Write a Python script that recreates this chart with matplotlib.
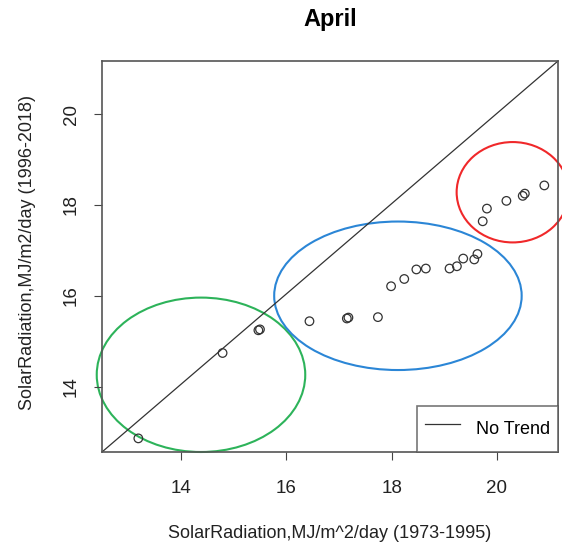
import numpy as np
import matplotlib
matplotlib.use('Agg')
import matplotlib.pyplot as plt
from matplotlib.patches import Ellipse

plt.rcParams['font.family'] = ['Liberation Sans', 'DejaVu Sans']

# mean April solar radiation, 1973-1995 vs 1996-2018
x_old = [13.19, 14.79, 15.47, 15.50, 16.44, 17.15, 17.18, 17.74, 17.99, 18.24,
         18.47, 18.65, 19.10, 19.24, 19.36, 19.57, 19.63, 19.73, 19.81, 20.18,
         20.49, 20.53, 20.90]
y_new = [12.86, 14.74, 15.24, 15.26, 15.44, 15.50, 15.52, 15.53, 16.21, 16.37,
         16.58, 16.60, 16.60, 16.65, 16.82, 16.80, 16.92, 17.64, 17.92, 18.09,
         18.20, 18.25, 18.43]

# cluster ellipses: centre x, centre y, width, height, colour
groups = [
    (14.38, 14.26, 3.96, 3.40, '#2db35a'),
    (18.12, 16.00, 4.70, 3.27, '#2b86d6'),
    (20.30, 18.28, 2.13, 2.21, '#f0282a'),
]

fig = plt.figure(figsize=(5.62, 5.5), dpi=100)
ax = fig.add_axes([102/562, 98/550, 456/562, 391/550])
ax.set_xlim(12.5, 21.16)
ax.set_ylim(12.56, 21.17)

ax.plot([12.5, 21.16], [12.56, 21.17], color='#333333', lw=0.9, label='No Trend')
ax.scatter(x_old, y_new, s=38, facecolors='none', edgecolors='#333333', linewidths=0.9, zorder=3)

for cx, cy, w, h, c in groups:
    ax.add_patch(Ellipse((cx, cy), w, h, fill=False, edgecolor=c, lw=1.5, clip_on=False))

ax.set_xticks([14, 16, 18, 20])
ax.set_yticks([14, 16, 18, 20])
ax.tick_params(labelsize=13.5, length=6, color='#444444', labelcolor='#222222')
ax.tick_params(axis='x', pad=14)
ax.tick_params(axis='y', pad=10)
for lab in ax.get_yticklabels():
    lab.set_rotation(90)
    lab.set_va('center')
for sp in ax.spines.values():
    sp.set_color('#555555')
    sp.set_linewidth(1.2)

ax.set_xlabel('SolarRadiation,MJ/m^2/day (1973-1995)', fontsize=13, color='#222222', labelpad=20)
ax.set_ylabel('SolarRadiation,MJ/m2/day (1996-2018)', fontsize=13, color='#222222')
ax.yaxis.set_label_coords(-0.145, 0.51)
ax.set_title('April', fontsize=17, fontweight='bold', pad=25)

leg = ax.legend(loc='lower right', fontsize=13, borderaxespad=0, fancybox=False,
                handlelength=1.9, handleheight=2.2, borderpad=0.45, handletextpad=0.9)
leg.get_frame().set_edgecolor('#555555')
leg.get_frame().set_linewidth(1.2)

fig.savefig('out.png', dpi=100)
